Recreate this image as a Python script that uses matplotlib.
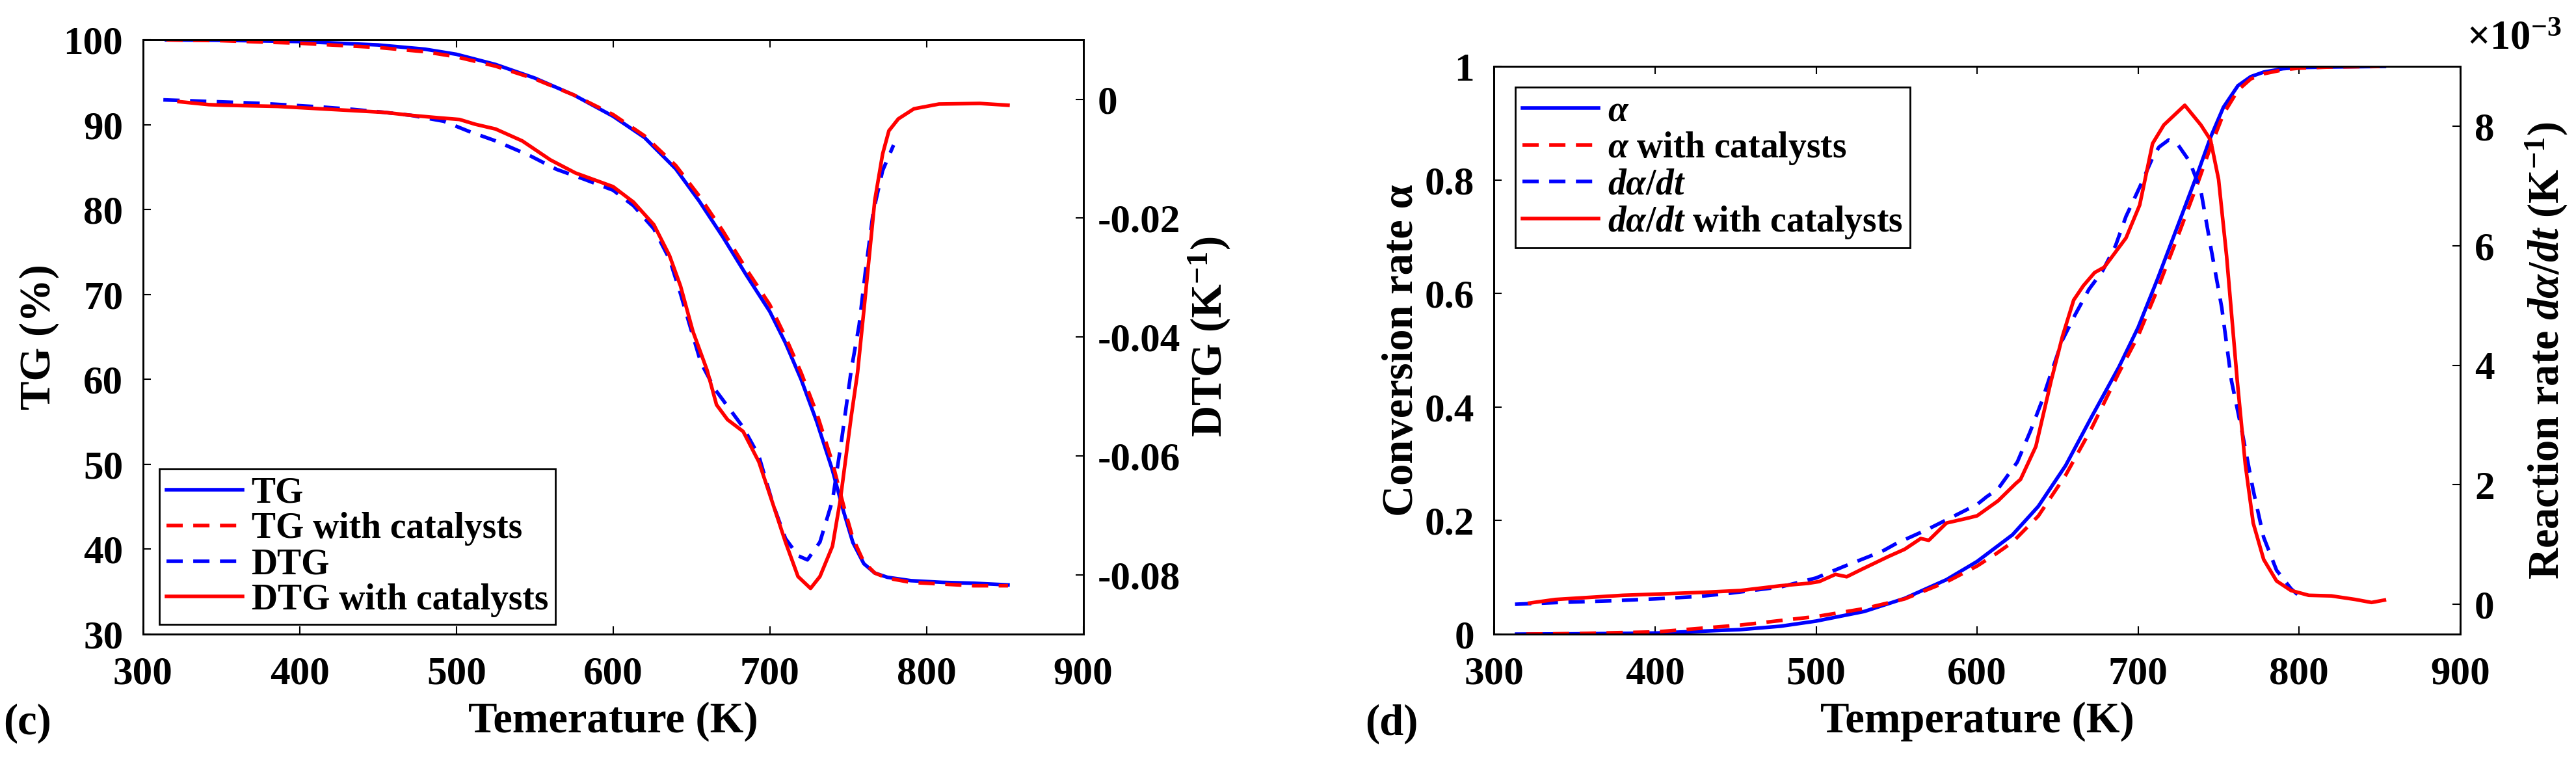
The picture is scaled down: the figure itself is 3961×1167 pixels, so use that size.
import matplotlib
matplotlib.use('Agg')
import matplotlib.pyplot as plt
from matplotlib.ticker import FuncFormatter
import numpy as np

plt.rcParams['font.family'] = 'Liberation Serif'
plt.rcParams['font.weight'] = 'bold'
plt.rcParams['axes.labelweight'] = 'bold'
plt.rcParams['mathtext.fontset'] = 'custom'
plt.rcParams['mathtext.rm'] = 'Liberation Serif:bold'
plt.rcParams['mathtext.it'] = 'Liberation Serif:italic:bold'
plt.rcParams['mathtext.bf'] = 'Liberation Serif:bold'
plt.rcParams['axes.unicode_minus'] = False
plt.rcParams['axes.linewidth'] = 2

# ---- panel (c): TG / DTG ----
T_tg = [315, 350, 400, 450, 480, 500, 525, 550, 575, 600, 620, 640, 655, 670, 685,
        700, 710, 720, 730, 740, 747, 753, 760, 767, 775, 790, 810, 830, 852]
tg = [100.0, 99.95, 99.8, 99.4, 98.9, 98.3, 97.1, 95.5, 93.5, 91.0, 88.5, 84.8, 81.0, 76.8, 72.3,
      68.0, 64.3, 60.0, 55.0, 49.3, 44.5, 40.8, 38.3, 37.2, 36.7, 36.3, 36.1, 36.0, 35.8]
tg_cat = [100.0, 99.9, 99.6, 99.1, 98.6, 98.0, 96.9, 95.4, 93.5, 91.2, 88.7, 85.2, 81.6, 77.5, 73.0,
          68.8, 65.0, 60.8, 56.0, 50.2, 45.2, 41.3, 38.5, 37.2, 36.6, 36.1, 35.9, 35.7, 35.7]

T_dtg = [313, 335, 356, 376, 395, 414, 434, 454, 471, 492, 508, 525, 547, 564, 581, 600, 613,
         626, 636, 643, 648, 656, 665, 676, 683, 693, 702, 710, 718, 724, 732, 740, 746, 752,
         757, 761, 766, 772, 779]
dtg = [-0.0001, -0.0003, -0.0005, -0.0007, -0.0010, -0.0013, -0.0017, -0.0022, -0.0027, -0.0037,
       -0.0054, -0.0070, -0.0095, -0.0118, -0.0134, -0.0153, -0.0179, -0.0218, -0.0269, -0.0327,
       -0.0372, -0.0443, -0.0488, -0.0527, -0.0552, -0.0600, -0.0681, -0.0739, -0.0768, -0.0775,
       -0.0745, -0.0675, -0.0570, -0.0455, -0.0380, -0.0290, -0.0190, -0.0120, -0.0077]

T_dtg_cat = [323, 342, 352, 386, 420, 454, 471, 488, 502, 512, 525, 542, 560, 576, 600, 613, 626,
             636, 643, 651, 660, 666, 673, 683, 693, 702, 710, 718, 726, 732, 740, 745, 752, 756,
             761, 767, 772, 776, 782, 792, 808, 834, 852]
dtg_cat = [-0.0004, -0.0009, -0.0010, -0.0012, -0.0017, -0.0022, -0.0027, -0.0031, -0.0034,
           -0.0042, -0.0050, -0.0070, -0.0102, -0.0124, -0.0147, -0.0173, -0.0211, -0.0263,
           -0.0314, -0.0391, -0.0456, -0.0514, -0.0539, -0.0559, -0.0610, -0.0681, -0.0745,
           -0.0803, -0.0823, -0.0803, -0.0752, -0.0674, -0.0533, -0.0460, -0.0330, -0.0170,
           -0.0092, -0.0053, -0.0033, -0.0016, -0.0008, -0.0007, -0.0010]

# ---- panel (d): conversion and reaction rate ----
T_a = [314, 350, 401, 453, 478, 500, 530, 555, 581, 600, 622, 638, 655, 671, 688, 700, 712,
       725, 737, 745, 753, 762, 770, 778, 790, 800, 820, 853]
alpha = [0.0, 0.0005, 0.002, 0.008, 0.014, 0.023, 0.040, 0.063, 0.096, 0.128, 0.175, 0.225,
         0.297, 0.382, 0.470, 0.540, 0.625, 0.722, 0.812, 0.875, 0.928, 0.966, 0.982, 0.990,
         0.996, 0.998, 0.999, 1.0]
T_a_cat = [320, 350, 401, 453, 500, 530, 555, 581, 600, 612, 622, 638, 655, 671, 688, 700, 712,
           725, 737, 745, 753, 762, 770, 778, 790, 800, 820, 850]
alpha_cat = [0.0, 0.001, 0.004, 0.016, 0.031, 0.045, 0.062, 0.092, 0.120, 0.142, 0.162, 0.208,
             0.280, 0.362, 0.460, 0.525, 0.607, 0.703, 0.794, 0.858, 0.916, 0.958, 0.978, 0.987,
             0.994, 0.997, 0.999, 1.0]

# reaction rate in units of 1e-3 K^-1
T_r = [313, 340, 375, 400, 427, 445, 478, 500, 517, 533, 542, 550, 569, 586, 600, 606, 613, 625,
       633, 640, 646, 653, 661, 669.5, 678, 686, 692.5, 701, 709, 713, 719, 725, 732, 739, 745,
       752, 758, 765, 771.5, 778, 786, 795, 800]
rate = [0.00, 0.03, 0.06, 0.09, 0.13, 0.18, 0.29, 0.44, 0.63, 0.80, 0.90, 1.02, 1.25, 1.48, 1.67,
        1.80, 1.93, 2.38, 2.89, 3.38, 3.87, 4.42, 4.85, 5.27, 5.58, 6.00, 6.49, 6.98, 7.47, 7.65,
        7.77, 7.68, 7.41, 6.92, 6.00, 4.96, 3.74, 2.83, 1.91, 1.12, 0.57, 0.26, 0.14]
T_r_cat = [322, 338, 350, 380, 401, 430, 453, 478, 495, 502, 512, 519, 528, 545, 555, 565, 570,
           581, 594, 600, 613, 624, 627, 636.5, 646, 653, 660, 666, 673, 679, 692.5, 701, 709,
           716, 729, 739, 745, 750, 755, 761.6, 766.6, 771.5, 778, 786, 795, 806, 820, 835, 845, 853]
rate_cat = [0.02, 0.08, 0.10, 0.15, 0.17, 0.20, 0.23, 0.31, 0.35, 0.38, 0.50, 0.46, 0.58, 0.80,
            0.92, 1.10, 1.07, 1.36, 1.44, 1.48, 1.73, 2.02, 2.09, 2.64, 3.74, 4.48, 5.09, 5.33,
            5.55, 5.64, 6.13, 6.68, 7.71, 8.02, 8.35, 8.02, 7.77, 7.11, 5.82, 3.74, 2.34, 1.36,
            0.75, 0.39, 0.23, 0.15, 0.14, 0.08, 0.03, 0.07]

BLUE = '#0000ff'
RED = '#ff0000'
LW = 4
DASH = (4.5, 2.9)
TICK_LEN = 8.6
TICK_FS = 44
LABEL_FS = 48

fig = plt.figure(figsize=(39.61, 11.67), dpi=100)


def style_axes(ax, axr):
    ax.tick_params(axis='both', direction='in', length=TICK_LEN, width=1.5, labelsize=TICK_FS)
    ax.tick_params(axis='x', top=True, pad=24)
    ax.tick_params(axis='y', right=False, pad=22)
    axr.tick_params(axis='y', direction='in', length=TICK_LEN, width=1.5, labelsize=TICK_FS, pad=16)
    ax.set_xlim(300, 900)
    ax.set_xticks(range(300, 901, 100))


# panel (c)
ax1 = fig.add_axes([0.0555, 0.1645, 0.365, 0.783])
ax1r = ax1.twinx()
l1, = ax1.plot(T_tg, tg, color=BLUE, lw=LW, label='TG')
l2, = ax1.plot(T_tg, tg_cat, color=RED, lw=LW, dashes=DASH, label='TG with catalysts')
l3, = ax1r.plot(T_dtg, dtg, color=BLUE, lw=LW, dashes=DASH, label='DTG')
l4, = ax1r.plot(T_dtg_cat, dtg_cat, color=RED, lw=LW, label='DTG with catalysts')
style_axes(ax1, ax1r)
ax1.set_ylim(30, 100)
ax1.set_yticks(range(30, 101, 10))
ax1r.set_ylim(-0.09, 0.01)
ax1r.set_yticks([-0.08, -0.06, -0.04, -0.02, 0])
ax1r.yaxis.set_major_formatter(FuncFormatter(lambda v, p: '%g' % round(v, 4)))

ax1.set_xlabel('Temerature (K)', fontsize=LABEL_FS)
ax1.xaxis.set_label_coords(0.5, -0.1127)
ax1.set_ylabel('TG (%)', fontsize=LABEL_FS)
ax1.yaxis.set_label_coords(-0.1107, 0.5)
ax1.yaxis.label.set_va('center')
ax1r.set_ylabel('DTG (K$^{-1}$)', fontsize=LABEL_FS)
ax1r.yaxis.set_label_coords(1.134, 0.5)
ax1r.yaxis.label.set_va('center')

leg1 = ax1r.legend([l1, l2, l3, l4], [h.get_label() for h in (l1, l2, l3, l4)],
                   loc='lower left', bbox_to_anchor=(0.0173, 0.0164), borderaxespad=0,
                   fontsize=40, handlelength=2.1, handletextpad=0.25, labelspacing=0.05,
                   borderpad=0.2, fancybox=False, edgecolor='black', framealpha=1)
leg1.get_frame().set_linewidth(2)

# panel (d)
ax2 = fig.add_axes([0.580, 0.1645, 0.375, 0.748])
ax2r = ax2.twinx()
m1, = ax2.plot(T_a, alpha, color=BLUE, lw=LW, label=r'$\alpha$')
m2, = ax2.plot(T_a_cat, alpha_cat, color=RED, lw=LW, dashes=DASH, label=r'$\alpha$ with catalysts')
m3, = ax2r.plot(T_r, np.array(rate) * 1e-3, color=BLUE, lw=LW, dashes=DASH, label=r'$d\alpha/dt$')
m4, = ax2r.plot(T_r_cat, np.array(rate_cat) * 1e-3, color=RED, lw=LW,
                label=r'$d\alpha/dt$ with catalysts')
style_axes(ax2, ax2r)
ax2.set_ylim(0, 1)
ax2.set_yticks([0, 0.2, 0.4, 0.6, 0.8, 1])
ax2.yaxis.set_major_formatter(FuncFormatter(lambda v, p: '%g' % round(v, 2)))
ax2r.set_ylim(-0.5e-3, 9e-3)
ax2r.set_yticks([0, 2e-3, 4e-3, 6e-3, 8e-3])
ax2r.yaxis.set_major_formatter(FuncFormatter(lambda v, p: '%g' % round(v * 1e3, 4)))

ax2.set_xlabel('Temperature (K)', fontsize=LABEL_FS)
ax2.xaxis.set_label_coords(0.5, -0.118)
ax2.set_ylabel('Conversion rate α', fontsize=LABEL_FS)
ax2.yaxis.set_label_coords(-0.0956, 0.5)
ax2.yaxis.label.set_va('center')
ax2r.set_ylabel(r'Reaction rate $d\alpha/dt$ (K$^{-1}$)', fontsize=LABEL_FS)
ax2r.yaxis.set_label_coords(1.0895, 0.5)
ax2r.yaxis.label.set_va('center')

leg2 = ax2r.legend([m1, m2, m3, m4], [h.get_label() for h in (m1, m2, m3, m4)],
                   loc='upper left', bbox_to_anchor=(0.0222, 0.9633), borderaxespad=0,
                   fontsize=40, handlelength=2.1, handletextpad=0.25, labelspacing=0.05,
                   borderpad=0.2, fancybox=False, edgecolor='black', framealpha=1)
leg2.get_frame().set_linewidth(2)

fig.text(0.9576, 0.9357, '×10$^{-3}$', ha='left', va='baseline', fontsize=45)
fig.text(0.0106, 0.047, '(c)', ha='center', va='center', fontsize=LABEL_FS)
fig.text(0.5402, 0.046, '(d)', ha='center', va='center', fontsize=LABEL_FS)

fig.savefig('out.png', dpi=100)
